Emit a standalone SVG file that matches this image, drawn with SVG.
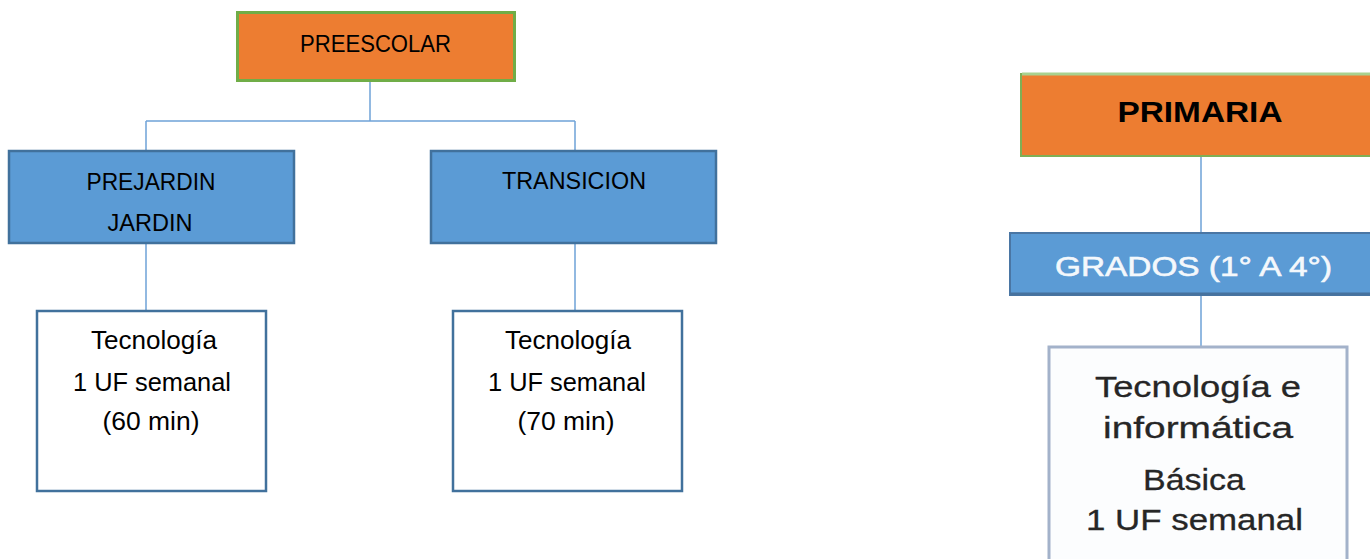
<svg xmlns="http://www.w3.org/2000/svg" width="1370" height="559" viewBox="0 0 1370 559">
<style>
.t{font-family:"Liberation Sans",Arial,sans-serif;fill:#000;text-anchor:middle}
.h{font-size:24px}
.l{font-size:25px}
.r{font-size:30px;fill:#262626;stroke:#262626;stroke-width:0.3}
.orange{fill:#ED7D31;stroke:#70AD47;stroke-width:3}
.blue{fill:#5B9BD5;stroke:#41719C;stroke-width:2.5}
.white{fill:#fff;stroke:#41719C;stroke-width:2.5}
.conn{fill:none;stroke:#6FA3D8;stroke-width:1.5}
</style>
<rect width="1370" height="559" fill="#fff"/>
<g id="connectors">
<path class="conn" d="M370 80 V121 M146 121 H575 M146 121 V151 M575 121 V151"/>
<path class="conn" d="M146 243 V310 M575 243 V310"/>
<path class="conn" d="M1201 156 V232 M1201 296 V346" stroke-width="3"/>
</g>
<g id="preescolar">
<rect class="orange" x="237.5" y="12.5" width="277" height="68"/>
<text class="t h" x="375.5" y="52" textLength="151" lengthAdjust="spacingAndGlyphs">PREESCOLAR</text>
</g>
<g id="prejardin">
<rect class="blue" x="9" y="151" width="285" height="92"/>
<text class="t h" x="151" y="190" textLength="129" lengthAdjust="spacingAndGlyphs">PREJARDIN</text>
<text class="t h" x="150" y="231" textLength="85" lengthAdjust="spacingAndGlyphs">JARDIN</text>
</g>
<g id="transicion">
<rect class="blue" x="431" y="151" width="285" height="92"/>
<text class="t h" x="574" y="189" textLength="144" lengthAdjust="spacingAndGlyphs">TRANSICION</text>
</g>
<g id="tec1">
<rect class="white" x="37" y="311" width="229" height="180"/>
<text class="t l" x="154" y="349" textLength="126" lengthAdjust="spacingAndGlyphs">Tecnología</text>
<text class="t l" x="152" y="391" textLength="158" lengthAdjust="spacingAndGlyphs">1 UF semanal</text>
<text class="t l" x="151" y="430" textLength="97" lengthAdjust="spacingAndGlyphs">(60 min)</text>
</g>
<g id="tec2">
<rect class="white" x="453" y="311" width="229" height="180"/>
<text class="t l" x="568" y="349" textLength="126" lengthAdjust="spacingAndGlyphs">Tecnología</text>
<text class="t l" x="567" y="391" textLength="158" lengthAdjust="spacingAndGlyphs">1 UF semanal</text>
<text class="t l" x="566" y="430" textLength="97" lengthAdjust="spacingAndGlyphs">(70 min)</text>
</g>
<g id="primaria">
<rect x="1021" y="74" width="360" height="82" fill="#ED7D31" stroke="#7FAF55" stroke-width="2"/>
<line x1="1022" y1="74" x2="1370" y2="74" stroke="#A9D18E" stroke-width="3"/>
<text class="t" x="1200" y="122" font-size="30" font-weight="bold" fill="#1a1a1a" textLength="165" lengthAdjust="spacingAndGlyphs">PRIMARIA</text>
</g>
<g id="grados">
<rect x="1010" y="233" width="370" height="62" fill="#5B9BD5" stroke="#4A76A4" stroke-width="2"/>
<line x1="1010" y1="294" x2="1370" y2="294" stroke="#46729E" stroke-width="3"/>
<text class="t" x="1193.5" y="276" font-size="27" style="fill:#f4f8fc;stroke:#f4f8fc;stroke-width:0.6" textLength="277" lengthAdjust="spacingAndGlyphs">GRADOS (1° A 4°)</text>
</g>
<g id="tec3">
<rect x="1049" y="347" width="298" height="230" fill="#fcfdfe" stroke="#A3B2CA" stroke-width="3"/>
<text class="t r" x="1198" y="397" textLength="206" lengthAdjust="spacingAndGlyphs">Tecnología e</text>
<text class="t r" x="1198" y="438" textLength="190" lengthAdjust="spacingAndGlyphs">informática</text>
<text class="t r" x="1194" y="490" textLength="102" lengthAdjust="spacingAndGlyphs">Básica</text>
<text class="t r" x="1194.5" y="530" textLength="217" lengthAdjust="spacingAndGlyphs">1 UF semanal</text>
</g>
</svg>
